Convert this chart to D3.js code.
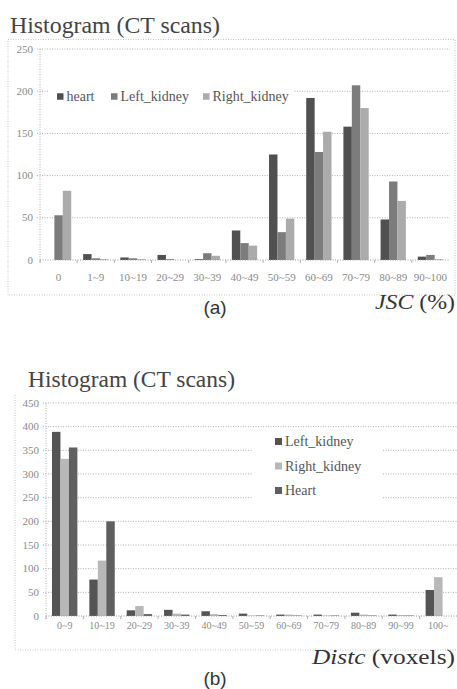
<!DOCTYPE html>
<html>
<head>
<meta charset="utf-8">
<script src="https://cdn.jsdelivr.net/npm/d3@7"></script>
<style>
  body { margin: 0; background: #fff; }
  svg { display: block; }
  .serif { font-family: "Liberation Serif", "Times New Roman", "DejaVu Serif", serif; }
  .sans { font-family: "Liberation Sans", Arial, "DejaVu Sans", sans-serif; }
</style>
</head>
<body>
<div id="container"></div>
<script>
// ---- chart (a): JSC histogram ----
const jscBins = ['0', '1~9', '10~19', '20~29', '30~39', '40~49', '50~59', '60~69', '70~79', '80~89', '90~100'];
const jscSeries = ['heart', 'Left_kidney', 'Right_kidney'];
const jscHeart = [0, 7, 3, 6, 1, 35, 125, 192, 158, 48, 4];
const jscLeft = [53, 2, 2, 1, 8, 20, 33, 128, 207, 93, 6];
const jscRight = [82, 1, 1, 0, 5, 17, 49, 152, 180, 70, 1];
const jscTicks = [0, 50, 100, 150, 200, 250];

// ---- chart (b): Distc histogram ----
const distBins = ['0~9', '10~19', '20~29', '30~39', '40~49', '50~59', '60~69', '70~79', '80~89', '90~99', '100~'];
const distSeries = ['Left_kidney', 'Right_kidney', 'Heart'];
const distLeft = [389, 77, 12, 13, 10, 5, 3, 3, 7, 3, 55];
const distRight = [332, 117, 21, 5, 4, 1, 3, 1, 3, 2, 82];
const distHeart = [356, 200, 4, 3, 2, 1, 1, 1, 1, 1, 0];
const distTicks = [0, 50, 100, 150, 200, 250, 300, 350, 400, 450];

const width = 457, height = 689;
const svg = d3.select('#container').append('svg')
  .attr('width', width).attr('height', height);

const gridCol = '#b0b0b0';
const labelCol = '#8a8a8a';

function drawHist(cfg) {
  const g = svg.append('g');
  const x = d3.scaleBand().domain(cfg.bins).range(cfg.xRange)
    .paddingInner(0.32).paddingOuter(0.16);
  const xs = d3.scaleBand().domain(cfg.series).range([0, x.bandwidth()]);
  const y = d3.scaleLinear().domain([0, cfg.ticks[cfg.ticks.length - 1]]).range(cfg.yRange);

  // outer frame
  g.append('path')
    .attr('d', cfg.frame)
    .attr('fill', 'none').attr('stroke', '#c4c4c4')
    .attr('stroke-dasharray', '1,1.5');

  // gridlines
  g.selectAll('.grid').data(cfg.ticks.slice(1)).enter().append('line')
    .attr('x1', cfg.xRange[0] - 3).attr('x2', cfg.gridEnd)
    .attr('y1', d => y(d)).attr('y2', d => y(d))
    .attr('stroke', gridCol).attr('stroke-dasharray', '1,1.5');

  // y axis
  g.append('line')
    .attr('x1', cfg.xRange[0]).attr('x2', cfg.xRange[0])
    .attr('y1', y(cfg.ticks[cfg.ticks.length - 1])).attr('y2', y(0) + 3)
    .attr('stroke', gridCol).attr('stroke-dasharray', '1,1.5');

  g.selectAll('.ylab').data(cfg.ticks).enter().append('text')
    .attr('class', 'serif')
    .attr('x', cfg.xRange[0] - 7).attr('y', d => y(d) + 3.5)
    .attr('text-anchor', 'end')
    .attr('font-size', 11)
    .attr('fill', labelCol).text(d => d);

  // legend background
  g.append('rect')
    .attr('x', cfg.legendBox[0]).attr('y', cfg.legendBox[1])
    .attr('width', cfg.legendBox[2]).attr('height', cfg.legendBox[3])
    .attr('fill', '#fff');

  // bars
  cfg.series.forEach((s, si) => {
    g.selectAll('.bar' + si).data(cfg.values[si]).enter().append('rect')
      .attr('x', (d, i) => x(cfg.bins[i]) + xs(s))
      .attr('y', d => y(d))
      .attr('width', xs.bandwidth())
      .attr('height', d => y(0) - y(d))
      .attr('fill', cfg.colors[si]);
  });

  // x axis
  g.append('line')
    .attr('x1', cfg.xRange[0]).attr('x2', cfg.gridEnd)
    .attr('y1', y(0)).attr('y2', y(0))
    .attr('stroke', '#999').attr('stroke-dasharray', '1,1.5');
  g.selectAll('.xtick').data(cfg.bins).enter().append('line')
    .attr('x1', d => x(d) - x.step() * x.paddingInner() / 2)
    .attr('x2', d => x(d) - x.step() * x.paddingInner() / 2)
    .attr('y1', y(0)).attr('y2', y(0) + 3)
    .attr('stroke', gridCol);
  g.selectAll('.xlab').data(cfg.bins).enter().append('text')
    .attr('class', 'serif')
    .attr('x', d => x(d) + x.bandwidth() / 2)
    .attr('y', y(0) + cfg.xLabDy)
    .attr('text-anchor', 'middle')
    .attr('font-size', cfg.xLabFont)
    .attr('fill', labelCol).text(d => d);

  cfg.series.forEach((s, si) => {
    const [lx, ly] = cfg.legendPos(si);
    g.append('rect')
      .attr('x', lx).attr('y', ly - cfg.sq / 2 - 0.5)
      .attr('width', cfg.sq).attr('height', cfg.sq)
      .attr('fill', cfg.colors[si]);
    g.append('text')
      .attr('class', 'serif')
      .attr('x', lx + cfg.sq + 3).attr('y', ly + 4)
      .attr('font-size', cfg.legendFont)
      .attr('fill', '#555').text(s);
  });

  // title
  g.append('text')
    .attr('class', 'serif')
    .attr('x', cfg.title[0]).attr('y', cfg.title[1])
    .attr('font-size', 24)
    .attr('textLength', cfg.title[2]).attr('lengthAdjust', 'spacingAndGlyphs')
    .attr('fill', '#444').text('Histogram (CT scans)');

  // caption
  g.append('text')
    .attr('class', 'sans')
    .attr('x', 215).attr('y', cfg.capY)
    .attr('text-anchor', 'middle')
    .attr('font-size', 19)
    .attr('fill', '#333').text(cfg.cap);

  const unit = g.append('text')
    .attr('class', 'serif')
    .attr('x', 455 - cfg.unitW).attr('y', cfg.unitY)
    .attr('font-size', 20)
    .attr('textLength', cfg.unitW).attr('lengthAdjust', 'spacingAndGlyphs')
    .attr('fill', '#333');
  unit.append('tspan').attr('font-style', 'italic').text(cfg.unit[0]);
  unit.append('tspan').text(cfg.unit[1]);
}

drawHist({
  bins: jscBins, series: jscSeries,
  values: [jscHeart, jscLeft, jscRight],
  colors: ['#505050', '#7c7c7c', '#ababab'],
  ticks: jscTicks,
  xRange: [40, 449], yRange: [260, 49], gridEnd: 450,
  frame: 'M8,39.5H455V295H8Z',
  legendBox: [49, 86, 245, 22],
  legendPos: i => [[57, 97], [111, 97], [203, 97]][i],
  sq: 6.5, legendFont: 14,
  xLabDy: 21, xLabFont: 11,
  title: [10, 33, 210], cap: '(a)', capY: 314,
  unit: ['JSC', ' (%)'], unitY: 309, unitW: 80
});

drawHist({
  bins: distBins, series: distSeries,
  values: [distLeft, distRight, distHeart],
  colors: ['#545454', '#b8b8b8', '#5f5f5f'],
  ticks: distTicks,
  xRange: [46, 457], yRange: [616, 403], gridEnd: 457,
  frame: 'M15,395V650H457',
  legendBox: [253, 430, 130, 74],
  legendPos: i => [275, 442 + i * 24.5],
  sq: 7, legendFont: 14,
  xLabDy: 13, xLabFont: 10,
  title: [28, 387, 207], cap: '(b)', capY: 685,
  unit: ['Distc', ' (voxels)'], unitY: 664, unitW: 143
});
</script>
</body>
</html>
